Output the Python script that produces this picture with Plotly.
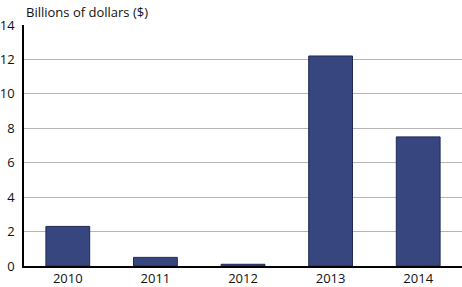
import plotly.graph_objects as go

years = ["2010", "2011", "2012", "2013", "2014"]
values = [2.3, 0.5, 0.1, 12.2, 7.5]
y_ticks = [0, 2, 4, 6, 8, 10, 12, 14]

fig = go.Figure(go.Bar(
    x=years, y=values,
    marker=dict(color="#37467f", line=dict(color="#1f2a55", width=1)),
    width=0.5,
))
fig.update_layout(
    width=462, height=287,
    margin=dict(l=22, r=0, t=25, b=21),
    plot_bgcolor="white", paper_bgcolor="white",
    font=dict(family="Open Sans", size=13, color="#111"),
    showlegend=False,
    annotations=[dict(text="Billions of dollars ($)", xref="paper", yref="paper",
                      x=0, y=1, xanchor="left", yanchor="bottom", yshift=2,
                      showarrow=False, font=dict(size=13))],
)
fig.update_xaxes(showline=True, linecolor="black", linewidth=1.5, ticks="",
                 tickfont=dict(size=13))
fig.update_yaxes(range=[0, 14], tickvals=y_ticks, showgrid=True,
                 gridcolor="#b5b5b5", gridwidth=1.2, showline=True,
                 linecolor="black", linewidth=1.5, zeroline=False,
                 ticks="", ticklabelstandoff=5, tickfont=dict(size=13))
fig.write_html("out.html")
